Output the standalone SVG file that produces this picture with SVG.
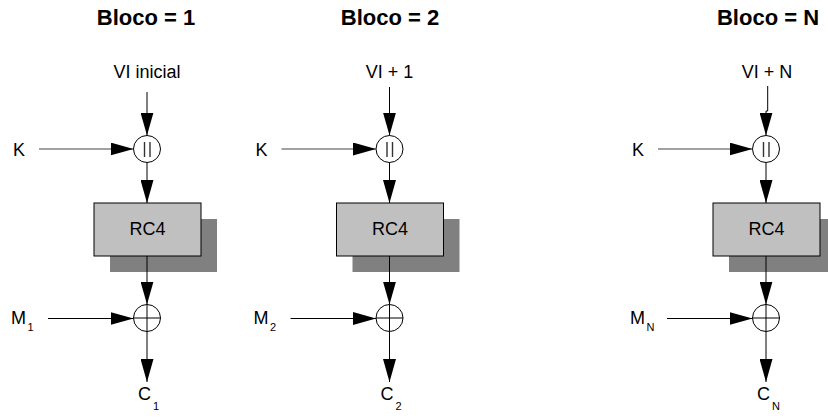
<svg xmlns="http://www.w3.org/2000/svg" width="828" height="418" viewBox="0 0 828 418">
<defs>
<style>
text{font-family:"Liberation Sans",Arial,sans-serif;fill:#000}
.title{font-size:22px;font-weight:bold;text-anchor:middle}
.lbl{font-size:18px}
.mid{text-anchor:middle}
.sub{font-size:11px}
.op{fill:#fff;stroke:#000;stroke-width:1}
.bar{stroke:#333;stroke-width:1.4}
.box{fill:#c0c0c0;stroke:#000;stroke-width:1}
.shadow{fill:#808080}
.conn{fill:none;stroke:#000;stroke-width:1;marker-end:url(#ah)}
.kconn{stroke:#444}
</style>
<marker id="ah" markerUnits="userSpaceOnUse" markerWidth="23" markerHeight="13" refX="23" refY="6.5" orient="auto">
<path d="M0,0 L23,6.5 L0,13 Z" fill="#000"/>
</marker>
</defs>
<rect width="828" height="418" fill="#fff"/>

<!-- Block 1 -->
<g id="block1">
<g id="title1"><text class="title" x="146" y="25">Bloco = 1</text></g>
<g id="vi1"><text class="lbl mid" x="147" y="78">VI inicial</text></g>
<g id="k1"><text class="lbl" x="13" y="156">K</text></g>
<g id="concat1"><circle class="op" cx="147" cy="149" r="13.5"/><line class="bar" x1="144.5" y1="142" x2="144.5" y2="157"/><line class="bar" x1="150" y1="142" x2="150" y2="157"/></g>
<g id="rc4_1"><rect class="shadow" x="110" y="219" width="107" height="53"/><rect class="box" x="94" y="203" width="107" height="53"/><text class="lbl mid" x="147.5" y="235">RC4</text></g>
<g id="xor1"><circle class="op" cx="147" cy="318" r="13.5"/><path d="M133.5,318H160.5M147,304.5V331.5" stroke="#000" stroke-width="1"/></g>
<g id="m1"><text class="lbl" x="11" y="324">M</text><text class="sub" x="27.5" y="331">1</text></g>
<g id="c1"><text class="lbl" x="138" y="400">C</text><text class="sub" x="153" y="410">1</text></g>
</g>

<!-- Block 2 -->
<g id="block2" transform="translate(242.5,0)">
<g id="title2"><text class="title" x="147.5" y="25">Bloco = 2</text></g>
<g id="vi2"><text class="lbl mid" x="147" y="78">VI + 1</text></g>
<g id="k2"><text class="lbl" x="13" y="156">K</text></g>
<g id="concat2"><circle class="op" cx="147" cy="149" r="13.5"/><line class="bar" x1="144.5" y1="142" x2="144.5" y2="157"/><line class="bar" x1="150" y1="142" x2="150" y2="157"/></g>
<g id="rc4_2"><rect class="shadow" x="110" y="219" width="107" height="53"/><rect class="box" x="94" y="203" width="107" height="53"/><text class="lbl mid" x="147.5" y="235">RC4</text></g>
<g id="xor2"><circle class="op" cx="147" cy="318" r="13.5"/><path d="M133.5,318H160.5M147,304.5V331.5" stroke="#000" stroke-width="1"/></g>
<g id="m2"><text class="lbl" x="11" y="324">M</text><text class="sub" x="27.5" y="331">2</text></g>
<g id="c2"><text class="lbl" x="138" y="400">C</text><text class="sub" x="153" y="410">2</text></g>
</g>

<!-- Block N -->
<g id="blockN" transform="translate(619,0)">
<g id="titleN"><text class="title" x="149" y="25">Bloco = N</text></g>
<g id="viN"><text class="lbl mid" x="148" y="78">VI + N</text></g>
<g id="kN"><text class="lbl" x="13" y="156">K</text></g>
<g id="concatN"><circle class="op" cx="147" cy="149" r="13.5"/><line class="bar" x1="144.5" y1="142" x2="144.5" y2="157"/><line class="bar" x1="150" y1="142" x2="150" y2="157"/></g>
<g id="rc4_N"><rect class="shadow" x="110" y="219" width="107" height="53"/><rect class="box" x="94" y="203" width="107" height="53"/><text class="lbl mid" x="147.5" y="235">RC4</text></g>
<g id="xorN"><circle class="op" cx="147" cy="318" r="13.5"/><path d="M133.5,318H160.5M147,304.5V331.5" stroke="#000" stroke-width="1"/></g>
<g id="mN"><text class="lbl" x="11" y="324">M</text><text class="sub" x="27.5" y="331">N</text></g>
<g id="cN"><text class="lbl" x="138" y="400">C</text><text class="sub" x="153" y="410">N</text></g>
</g>

<!-- Connectors -->
<g id="connectors">
<g>
<path class="conn" d="M147,92V135.5"/>
<path class="conn kconn" d="M39,149H133.5"/>
<path class="conn" d="M147,162.5V203"/>
<path class="conn" d="M147,256V304.5"/>
<path class="conn" d="M48,318.5H133.5"/>
<path class="conn" d="M147,331.5V382"/>
</g>
<g transform="translate(242.5,0)">
<path class="conn" d="M147,87V135.5"/>
<path class="conn kconn" d="M39,149H133.5"/>
<path class="conn" d="M147,162.5V203"/>
<path class="conn" d="M147,256V304.5"/>
<path class="conn" d="M48,318.5H133.5"/>
<path class="conn" d="M147,331.5V382"/>
</g>
<g transform="translate(619,0)">
<path class="conn" d="M148.7,86V111H147V135.5"/>
<path class="conn kconn" d="M39,149H133.5"/>
<path class="conn" d="M147,162.5V203"/>
<path class="conn" d="M147,256V304.5"/>
<path class="conn" d="M48,318.5H133.5"/>
<path class="conn" d="M147,331.5V382"/>
</g>
</g>
</svg>
